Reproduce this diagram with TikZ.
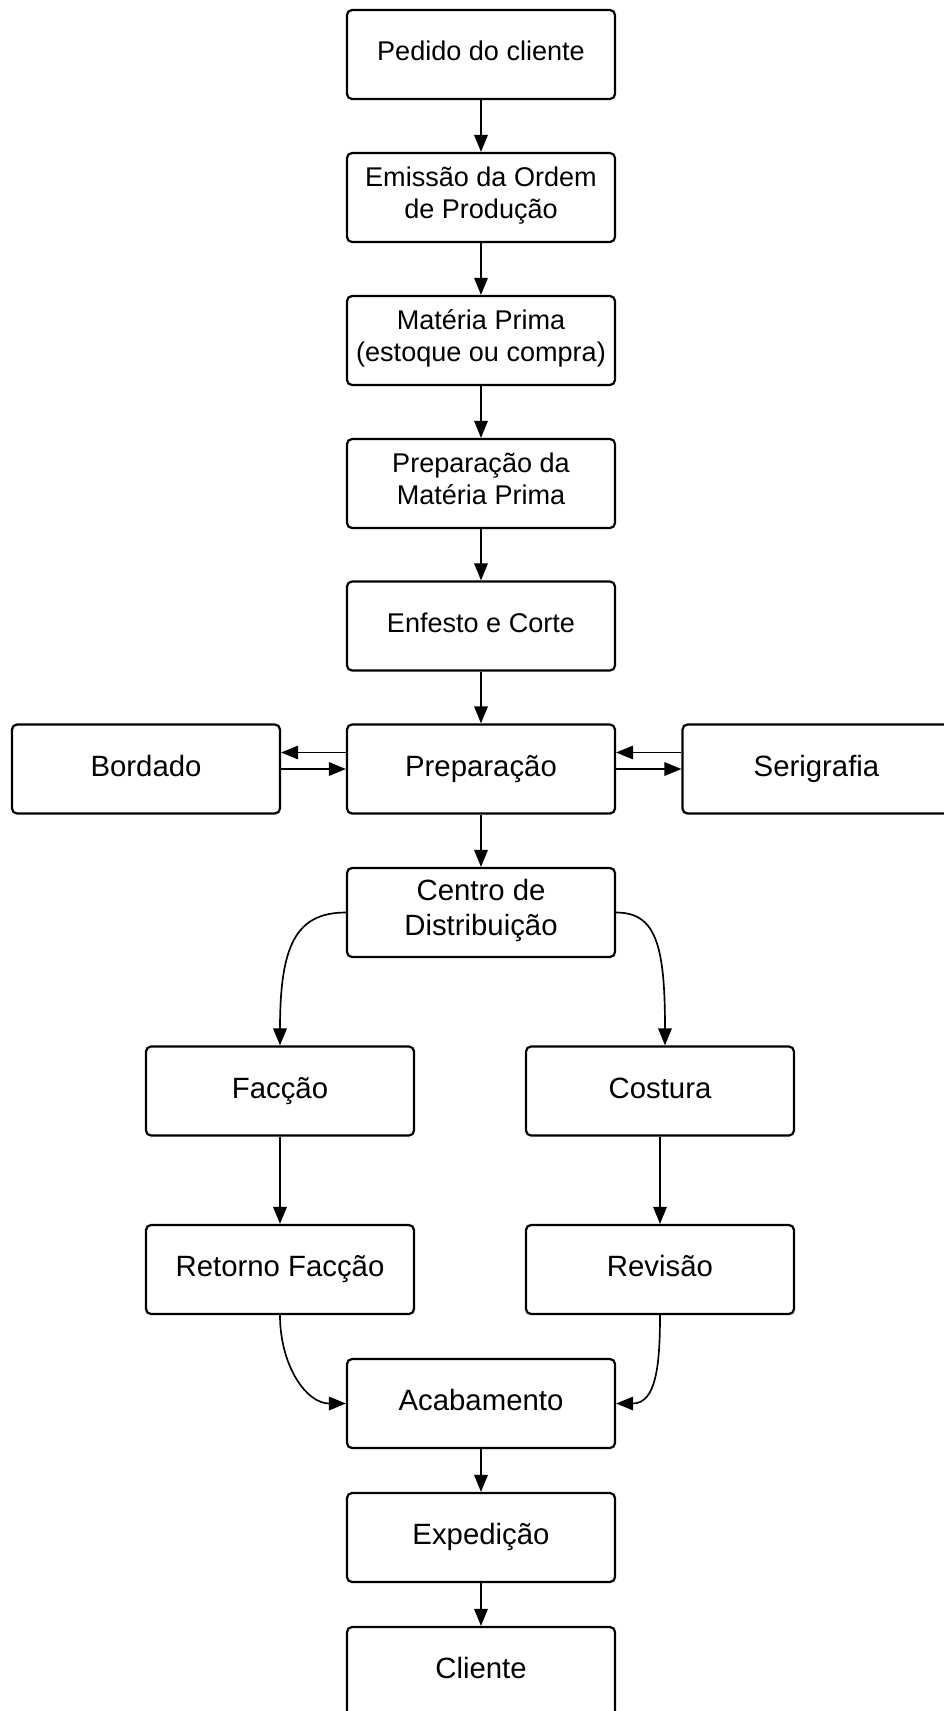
\documentclass[tikz,border=0pt]{standalone}
\usepackage{fontspec}
\setmainfont{Liberation Sans}
\usetikzlibrary{arrows.meta}
\tikzset{
  procbox/.style={draw, line width=1.25pt, rounded corners=0.1cm, fill=white,
    minimum width=5.36cm, minimum height=1.78cm, inner sep=0pt, align=center,
    font=\fontsize{16.7}{20}\selectfont,
    execute at begin node=\strut, execute at end node=\strut},
  smalltext/.style={font=\fontsize{15.4}{18.4}\selectfont},
  flow/.style={line width=0.95pt, -{Triangle[length=0.34cm,width=0.27cm]}}
}

\begin{document}
\begin{tikzpicture}
\useasboundingbox (0,0) rectangle (18.88,-34.22);
\clip (0,0) rectangle (18.88,-34.22);
% Main column, upper part
\node[procbox, smalltext] (pedido) at (9.62,-1.09) {Pedido do cliente};
\node[procbox, smalltext] (emissao) at (9.62,-3.95) {Emissão da Ordem\\de Produção};
\node[procbox, smalltext] (materia) at (9.62,-6.81) {Matéria Prima\\(estoque ou compra)};
\node[procbox, smalltext] (prepmp) at (9.62,-9.67) {Preparação da\\Matéria Prima};
\node[procbox, smalltext] (enfesto) at (9.62,-12.52) {Enfesto e Corte};
% Preparation with side processes
\node[procbox] (prep) at (9.62,-15.38) {Preparação};
\node[procbox] (bordado) at (2.92,-15.38) {Bordado};
\node[procbox] (serigrafia) at (16.33,-15.38) {Serigrafia};
\node[procbox] (centro) at (9.62,-18.25) {Centro de\\Distribuição};
% Two branches
\node[procbox] (faccao) at (5.60,-21.82) {Facção};
\node[procbox] (costura) at (13.20,-21.82) {Costura};
\node[procbox] (retorno) at (5.60,-25.39) {Retorno Facção};
\node[procbox] (revisao) at (13.20,-25.39) {Revisão};
% Main column, lower part
\node[procbox] (acabamento) at (9.62,-28.07) {Acabamento};
\node[procbox] (expedicao) at (9.62,-30.75) {Expedição};
\node[procbox] (cliente) at (9.62,-33.43) {Cliente};

% Straight flow
\foreach \a/\b in {pedido/emissao, emissao/materia, materia/prepmp,
    prepmp/enfesto, enfesto/prep, prep/centro, faccao/retorno,
    costura/revisao, acabamento/expedicao, expedicao/cliente} {
  \draw[flow] (\a.south) -- (\b.north);
}
% Back and forth to the side processes
\draw[flow] ([yshift=0.33cm]prep.west) -- ([yshift=0.33cm]bordado.east);
\draw[flow] (bordado.east) -- (prep.west);
\draw[flow] ([yshift=0.33cm]serigrafia.west) -- ([yshift=0.33cm]prep.east);
\draw[flow] (prep.east) -- (serigrafia.west);
% Curved branches
\draw[flow] (centro.west) .. controls +(-1.0,0) and +(0,2.0) .. (faccao.north);
\draw[flow] (centro.east) .. controls +(0.8,0) and +(0,2.0) .. ([xshift=0.1cm]costura.north);
\draw[flow] (retorno.south) .. controls +(0,-1.0) and +(-0.8,0) .. (acabamento.west);
\draw[flow] (revisao.south) .. controls +(0,-1.0) and +(0.8,0) .. (acabamento.east);
\end{tikzpicture}
\end{document}
